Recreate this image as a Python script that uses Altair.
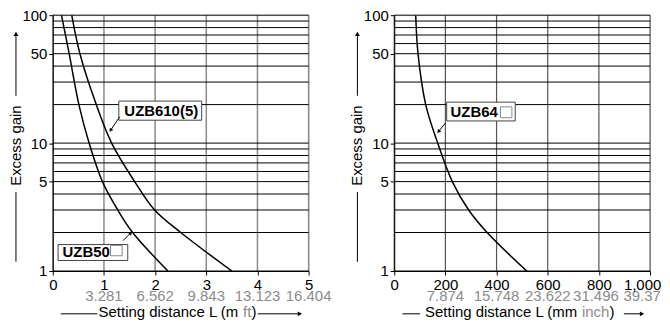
import altair as alt
import pandas as pd

FONT = "Liberation Sans"
W = H = 257
GRAY_TXT = "#8c8c8c"

# ---------------- data ----------------
gain_pts = [100, 50, 20, 10, 5, 3, 2, 1]
uzb50_m = [0.17, 0.32, 0.51, 0.71, 0.97, 1.27, 1.56, 2.25]
uzb610_m = [0.37, 0.53, 0.85, 1.15, 1.60, 1.99, 2.50, 3.50]
uzb64_mm = [84, 93, 123, 170, 227, 291, 363, 518]

m_ticks = [0, 1, 2, 3, 4, 5]
ft_ticks = [1, 2, 3, 4, 5]
ft_labels = ["3.281", "6.562", "9.843", "13.123", "16.404"]
mm_ticks = [0, 200, 400, 600, 800, 1000]
inch_ticks = [200, 400, 600, 800, 1000]
inch_labels = ["7.874", "15.748", "23.622", "31.496", "39.37"]
gain_grid = [1, 2, 3, 4, 5, 6, 7, 8, 9, 10, 20, 30, 40, 50, 60, 70, 80, 90, 100]
gain_labels = [1, 5, 10, 50, 100]

one = pd.DataFrame({"a": [0]})


def curve_df(series):
    rows = []
    for name, xs in series:
        for k, (x, g) in enumerate(zip(xs, gain_pts)):
            rows.append({"series": name, "dist": x, "gain": g, "k": k})
    return pd.DataFrame(rows)


def panel(series, xdom, xticks, xfmt, sec_ticks, sec_labels, sec_shift, vcolor, vwidth,
          annots, unit, sec_unit, tx0, unit_w, sec_w, lline, arrow, edge_shift):
    xs = alt.Scale(domain=xdom, nice=False, zero=False)
    ys = alt.Scale(type="log", domain=[1, 100], nice=False)
    last = xticks[-1]
    xax = alt.Axis(values=xticks, format=xfmt, grid=False, title=None,
                   labelFontSize=15, labelFont=FONT, labelColor="black",
                   tickSize=4, tickColor="black", domainColor="black",
                   labelPadding=3, zindex=1, labelFlush=False, labelOverlap=False,
                   labelOffset={"condition": {"test": f"datum.value >= {last}",
                                              "value": edge_shift}, "value": 0})
    yax = alt.Axis(values=gain_labels, format="d", grid=False, title=None,
                   labelFontSize=15, labelFont=FONT, labelColor="black",
                   tickSize=4, tickColor="black", domainColor="black",
                   labelPadding=2, zindex=1, labelOverlap=False)

    def XD(v):
        return alt.XDatum(v, type="quantitative", scale=xs, axis=xax)

    def YD(v):
        return alt.YDatum(v, type="quantitative", scale=ys, axis=yax)

    layers = []
    layers.append(alt.Chart(pd.DataFrame({"v": xticks})).mark_rule(
        color=vcolor, strokeWidth=vwidth).encode(
        x=alt.X("v", type="quantitative", scale=xs, axis=xax),
        y=alt.value(0), y2=alt.value(H)))
    layers.append(alt.Chart(pd.DataFrame({"g": gain_grid})).mark_rule(
        color="black", strokeWidth=1).encode(
        y=alt.Y("g", type="quantitative", scale=ys, axis=yax),
        x=alt.value(0), x2=alt.value(W)))
    layers.append(alt.Chart(curve_df(series)).mark_line(
        color="black", strokeWidth=1.5, interpolate="catmull-rom", clip=True).encode(
        x=alt.X("dist", type="quantitative", scale=xs, axis=xax),
        y=alt.Y("gain", type="quantitative", scale=ys, axis=yax),
        detail="series:N", order="k:Q"))
    sec_df = pd.DataFrame({"v": sec_ticks, "t": sec_labels})
    for i in range(len(sec_df)):
        layers.append(alt.Chart(sec_df.iloc[i:i + 1]).mark_text(
            color=GRAY_TXT, fontSize=15, font=FONT, baseline="alphabetic", align="center",
            dx=sec_shift[i]).encode(
            x=alt.X("v", type="quantitative", scale=xs, axis=xax),
            y=alt.value(H + 30), text="t:N"))

    for a in annots:
        x1, x2, y1, y2 = a["box"]
        layers.append(alt.Chart(one).mark_rect(fill="white", stroke="#444444", strokeWidth=1).encode(
            x=XD(x1), x2=alt.X2Datum(x2), y=YD(y1), y2=alt.Y2Datum(y2)))
        layers.append(alt.Chart(one).mark_text(
            text=a["text"], fontWeight="bold", fontSize=15, font=FONT,
            align=a["align"], baseline="middle", color="black").encode(
            x=XD(a["tpos"][0]), y=YD(a["tpos"][1])))
        if "square" in a:
            s1, s2, s3, s4 = a["square"]
            layers.append(alt.Chart(one).mark_rect(fill="white", stroke="#888888", strokeWidth=1).encode(
                x=XD(s1), x2=alt.X2Datum(s2), y=YD(s3), y2=alt.Y2Datum(s4)))
        (ax1, ay1), (ax2, ay2), ang = a["arrow"]
        layers.append(alt.Chart(one).mark_rule(color="black", strokeWidth=1).encode(
            x=XD(ax1), x2=alt.X2Datum(ax2), y=YD(ay1), y2=alt.Y2Datum(ay2)))
        layers.append(alt.Chart(one).mark_point(
            shape="triangle", filled=True, size=18, angle=ang, color="black",
            opacity=1, strokeWidth=0).encode(x=XD(ax2), y=YD(ay2)))

    # y title with arrow
    layers.append(alt.Chart(one).mark_text(
        text="Excess gain", angle=270, fontSize=15, font=FONT, align="center",
        baseline="middle", color="black").encode(x=alt.value(-37), y=alt.value(131)))
    layers.append(alt.Chart(one).mark_rule(color="black", strokeWidth=1).encode(
        x=alt.value(-37), y=alt.value(81), y2=alt.value(21)))
    layers.append(alt.Chart(one).mark_point(
        shape="triangle", filled=True, size=24, angle=0, color="black",
        opacity=1, strokeWidth=0).encode(x=alt.value(-37), y=alt.value(19.5)))
    layers.append(alt.Chart(one).mark_rule(color="black", strokeWidth=1).encode(
        x=alt.value(-37), y=alt.value(177.7), y2=alt.value(247.7)))

    # x title with lines
    ty = H + 46.5
    ly = H + 43
    layers.append(alt.Chart(one).mark_text(
        text="Setting distance L (" + unit, fontSize=15, font=FONT, align="left",
        baseline="alphabetic", color="black").encode(x=alt.value(tx0), y=alt.value(ty)))
    layers.append(alt.Chart(one).mark_text(
        text=sec_unit, fontSize=15, font=FONT, align="left",
        baseline="alphabetic", color=GRAY_TXT).encode(x=alt.value(tx0 + unit_w), y=alt.value(ty)))
    layers.append(alt.Chart(one).mark_text(
        text=")", fontSize=15, font=FONT, align="left",
        baseline="alphabetic", color="black").encode(x=alt.value(tx0 + unit_w + sec_w), y=alt.value(ty)))
    layers.append(alt.Chart(one).mark_rule(color="black", strokeWidth=1).encode(
        x=alt.value(lline[0]), x2=alt.value(lline[1]), y=alt.value(ly)))
    layers.append(alt.Chart(one).mark_rule(color="black", strokeWidth=1).encode(
        x=alt.value(arrow[0]), x2=alt.value(arrow[1] - 3), y=alt.value(ly)))
    layers.append(alt.Chart(one).mark_point(
        shape="triangle", filled=True, size=24, angle=90, color="black",
        opacity=1, strokeWidth=0).encode(x=alt.value(arrow[1] - 2.5), y=alt.value(ly)))

    return alt.layer(*layers).properties(width=W, height=H)


left = panel(
    [("UZB50", uzb50_m), ("UZB610(5)", uzb610_m)],
    [0, 5], m_ticks, "d", ft_ticks, ft_labels, [0, 0, 0, 0, 0], "#8a8a8a", 1.5,
    [
        {"box": (1.29, 2.91, 21.3, 15.1), "text": "UZB610(5)", "align": "center",
         "tpos": (2.12, 17.9), "arrow": ((1.31, 16.1), (1.136, 12.7), 214)},
        {"box": (0.103, 1.465, 1.61, 1.209), "text": "UZB50", "align": "left",
         "tpos": (0.19, 1.42), "square": (1.128, 1.356, 1.585, 1.316),
         "arrow": ((1.375, 1.73), (1.516, 1.97), 45)},
    ],
    "m ", "ft", 46, 145.1, 8.4, (8, 44.7), (206, 250), 0,
)

right = panel(
    [("UZB64", uzb64_mm)],
    [0, 1000], mm_ticks, ",d", inch_ticks, inch_labels, [0, 0, 0, -3, -8], "#555555", 1.2,
    [
        {"box": (205, 473, 20.9, 14.9), "text": "UZB64", "align": "left",
         "tpos": (220, 17.6), "square": (415, 460, 19.2, 15.8),
         "arrow": ((201, 14.4), (174.5, 12.4), 220)},
    ],
    "mm ", "inch", 31, 157.6, 27.6, (8.3, 26), (230.7, 250.7), -8,
)

chart = alt.hconcat(left, right, spacing=17).properties(
    padding={"left": 0, "top": -1.5, "right": 0, "bottom": 0}, background="white"
).configure_view(stroke=None).configure(font=FONT)

chart.save("out.html", embed_options={"renderer": "svg", "actions": False})
